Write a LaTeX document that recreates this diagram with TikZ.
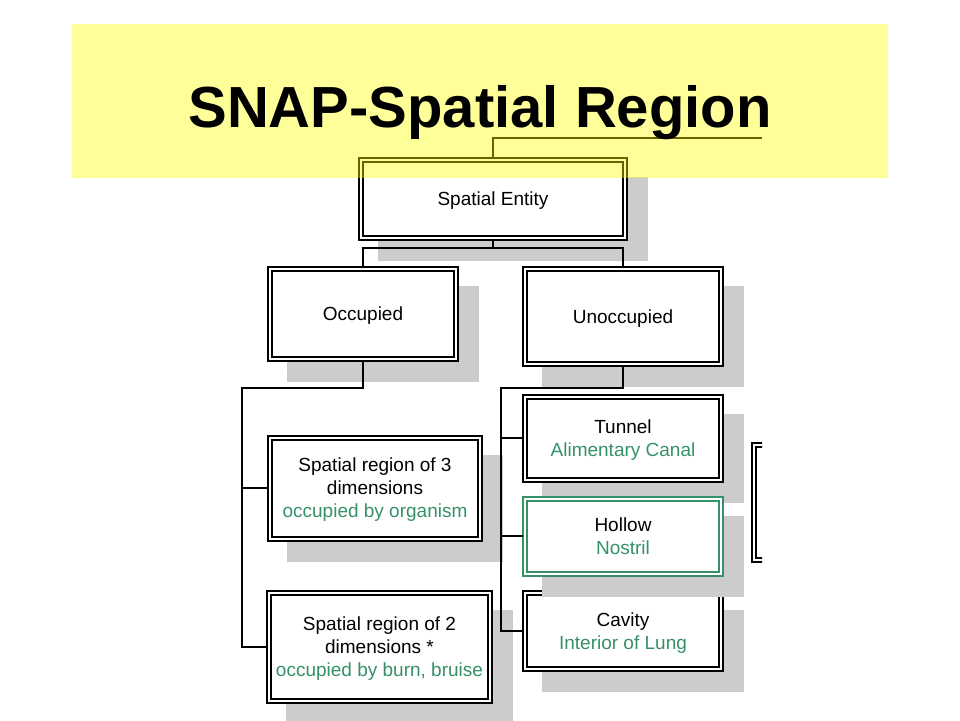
\documentclass[tikz,border=0pt]{standalone}
\usepackage{fontspec}
\setmainfont{Liberation Sans}
\definecolor{titlebar}{RGB}{255,255,0}
\definecolor{leafgreen}{RGB}{54,145,104}
\newcommand{\instance}[1]{\textcolor{leafgreen}{#1}}
\tikzset{
  kind/.style={draw, double=white, double distance=2pt, line width=2pt,
    fill=white, align=center, inner sep=0pt, text depth=0pt,
    font=\fontsize{19}{23}\selectfont,
    preaction={fill=black!20, draw=black!20, line width=6pt,
      transform canvas={shift={(20pt,-20pt)}}}},
  link/.style={line width=2pt, shorten >=1pt},
  trunk/.style={link, shorten <=1pt},
}

\begin{document}
\begin{tikzpicture}[x=1pt,y=-1pt]
    \useasboundingbox (0,0) rectangle (960,720);
    % boxes
    \node[kind, minimum width=264pt, minimum height=78pt] (se) at (493,199) {Spatial Entity};
    \node[kind, minimum width=186pt, minimum height=90pt] (occ) at (363,314) {Occupied};
    \node[kind, minimum width=196pt, minimum height=95pt] (unocc) at (623,316.5) {Unoccupied};
    \node[kind, minimum width=210pt, minimum height=101pt] (sr3) at (375,488)
        {Spatial region of 3\\dimensions\\\instance{occupied by organism}};
    \node[kind, minimum width=221pt, minimum height=108pt] (sr2) at (379.5,647)
        {Spatial region of 2\\dimensions *\\\instance{occupied by burn, bruise}};
    \node[kind, minimum width=196pt, minimum height=83pt] (tun) at (623,438)
        {Tunnel\\\instance{Alimentary Canal}};
    \node[kind, minimum width=196pt, minimum height=76pt] (cav) at (623,631)
        {Cavity\\\instance{Interior of Lung}};
    \node[kind, draw=leafgreen, minimum width=196pt, minimum height=75pt] (hol) at (623,536)
        {Hollow\\\instance{Nostril}};
    % box cut off at the right edge
    \begin{scope}
        \clip (745,430) rectangle (762,575);
        \draw[double=white, double distance=2pt, line width=2pt] (754,445) rectangle (850,560);
    \end{scope}
    % connectors
    \draw[trunk] (se.south) -- ++(0,9) -| (occ.north);
    \draw[trunk] (se.south) -- ++(0,9) -| (unocc.north);
    \coordinate (occbus) at (242,388);
    \draw[trunk] (occ.south) |- (occbus) |- (sr2.west);
    \draw[link] (occbus |- sr3.west) -- (sr3.west);
    \coordinate (unbus) at (501,388);
    \draw[trunk] (unocc.south) |- (unbus) |- (cav.west);
    \draw[link] (unbus |- tun.west) -- (tun.west);
    \draw[link] (unbus |- hol.west) -- (hol.west);
    \coordinate (parent) at (762,138);
    \draw[line width=2pt, shorten <=1pt] (se.north) |- (parent);
    % title band
    \fill[titlebar, fill opacity=0.4] (72,24) rectangle (888,178);
    \node[anchor=base, font=\fontsize{58}{58}\selectfont\bfseries] (title) at (480,127) {SNAP-Spatial Region};
\end{tikzpicture}
\end{document}
